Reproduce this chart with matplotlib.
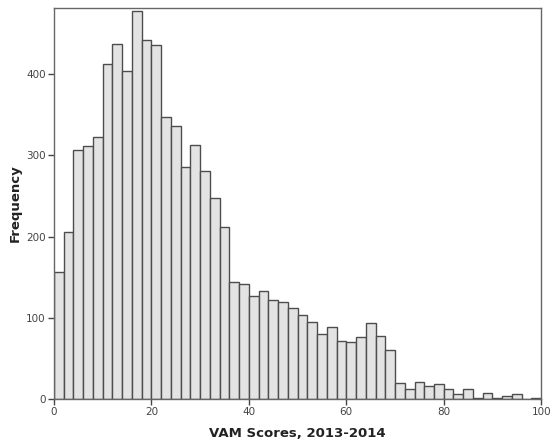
import matplotlib.pyplot as plt
import numpy as np

# bins of width 2 from 0 to 100
bin_left = np.arange(0, 100, 2)
counts = [156, 205, 307, 311, 322, 412, 437, 404, 477, 442,
          436, 347, 336, 286, 312, 281, 247, 212, 144, 142,
          127, 133, 122, 119, 112, 104, 95, 80, 89, 71,
          70, 76, 94, 78, 61, 20, 13, 21, 16, 19,
          13, 6, 12, 2, 8, 2, 4, 6, 0, 1]

x_ticks = [0, 20, 40, 60, 80, 100]
y_ticks = [0, 100, 200, 300, 400]

fig = plt.figure(figsize=(5.5, 4.45), dpi=100)
ax = fig.add_axes([0.098, 0.103, 0.886, 0.879])

ax.bar(bin_left, counts, width=2, align='edge', color='#e3e3e3',
       edgecolor='#4d4d4d', linewidth=1.0)

ax.set_xlim(0, 100)
ax.set_ylim(0, 481)
ax.set_xticks(x_ticks)
ax.set_yticks(y_ticks)
ax.tick_params(labelsize=7.5, colors='#444444', length=4, width=1, pad=2)
for s in ax.spines.values():
    s.set_color('#666666')
    s.set_linewidth(1.0)

ax.set_xlabel('VAM Scores, 2013-2014', fontsize=9.5, fontweight='bold',
              color='#222222')
ax.set_ylabel('Frequency', fontsize=9.5, fontweight='bold',
              color='#222222')
ax.xaxis.set_label_coords(0.5, -0.07)
ax.yaxis.set_label_coords(-0.066, 0.5)

fig.savefig('out.png', dpi=100)
